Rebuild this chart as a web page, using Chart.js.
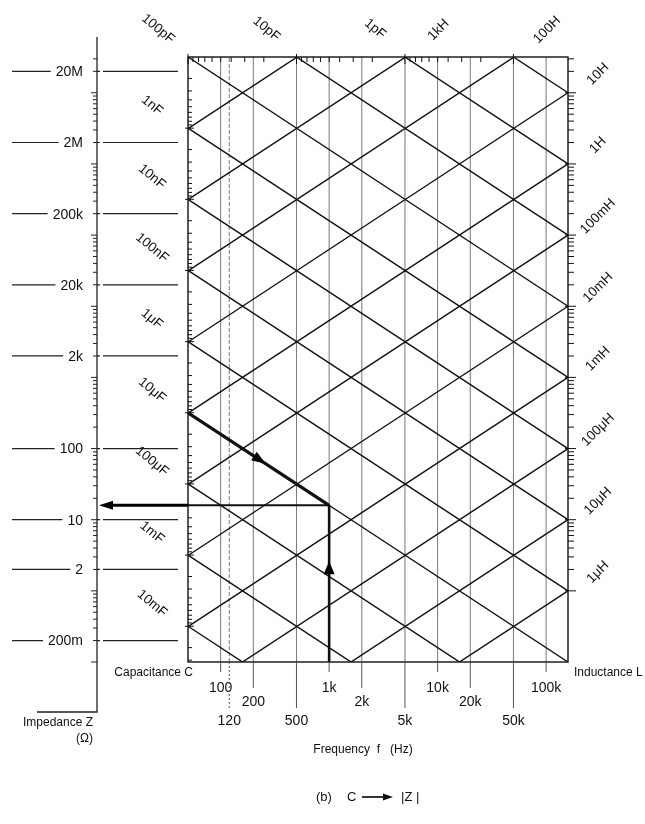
<!DOCTYPE html>
<html>
<head>
<meta charset="utf-8">
<script src="https://cdn.jsdelivr.net/npm/chart.js@4.4.1/dist/chart.umd.min.js"></script>
<style>
  html, body { margin: 0; padding: 0; background: #fff; }
  #chart { display: block; }
</style>
</head>
<body>
<canvas id="chart" width="645" height="824"></canvas>
<script>
const TWO_PI = 2 * Math.PI;

// frequency (Hz) and impedance (ohm) ranges of the plot
const freqRange = [50, 159155];
const impedanceRange = [0.1, 3.183e7];

// capacitance lines (F) and their labels
const capacitances = [1e-13, 1e-12, 1e-11, 1e-10, 1e-9, 1e-8, 1e-7, 1e-6, 1e-5, 1e-4, 1e-3, 1e-2];
const capacitanceLabels = ['', '1pF', '10pF', '100pF', '1nF', '10nF', '100nF', '1μF', '10μF', '100μF', '1mF', '10mF'];

// inductance lines (H) and their labels
const inductances = [1e-6, 1e-5, 1e-4, 1e-3, 1e-2, 1e-1, 1, 10, 100, 1000, 10000];
const inductanceLabels = ['1μH', '10μH', '100μH', '1mH', '10mH', '100mH', '1H', '10H', '100H', '1kH', ''];

// vertical frequency lines, their labels and label row (0 top .. 2 bottom)
const freqLines = [100, 120, 200, 500, 1000, 2000, 5000, 10000, 20000, 50000, 100000];
const freqLabels = ['100', '120', '200', '500', '1k', '2k', '5k', '10k', '20k', '50k', '100k'];
const freqRows = [0, 2, 1, 2, 0, 1, 2, 0, 1, 2, 0];

// impedance scale labels
const impedanceTicks = [2e7, 2e6, 2e5, 2e4, 2e3, 100, 10, 2, 0.2];
const impedanceLabels = ['20M', '2M', '200k', '20k', '2k', '100', '10', '2', '200m'];

// worked example: C = 10 uF at 1 kHz
const exampleC = 10e-6;
const exampleF = 1000;

const zCap = (f, c) => 1 / (TWO_PI * f * c);
const zInd = (f, l) => TWO_PI * f * l;
const exampleZ = zCap(exampleF, exampleC);

const FONT = '"Liberation Sans", Arial, Helvetica, sans-serif';

const datasets = [];

// example path (drawn on top)
datasets.push({
  data: [{ x: freqRange[0], y: zCap(freqRange[0], exampleC) }, { x: exampleF, y: exampleZ }],
  borderWidth: 3.2, order: 0
});
datasets.push({
  data: [{ x: exampleF, y: impedanceRange[0] }, { x: exampleF, y: exampleZ }],
  borderWidth: 2.6, order: 0
});
datasets.push({
  data: [{ x: freqRange[0], y: exampleZ }, { x: exampleF, y: exampleZ }],
  borderWidth: 2, order: 0
});

capacitances.forEach(c => {
  datasets.push({
    data: freqRange.map(f => ({ x: f, y: zCap(f, c) })),
    borderWidth: 1.4, order: 1
  });
});
inductances.forEach(l => {
  datasets.push({
    data: freqRange.map(f => ({ x: f, y: zInd(f, l) })),
    borderWidth: 1.4, order: 1
  });
});
freqLines.forEach(f => {
  datasets.push({
    data: impedanceRange.map(z => ({ x: f, y: z })),
    borderWidth: 1,
    borderColor: '#777',
    borderDash: f === 120 ? [4, 2] : [],
    order: 2
  });
});

function arrowHead(ctx, tx, ty, angle, len, half) {
  ctx.save();
  ctx.translate(tx, ty);
  ctx.rotate(angle);
  ctx.beginPath();
  ctx.moveTo(0, 0);
  ctx.lineTo(-len, -half);
  ctx.lineTo(-len, half);
  ctx.closePath();
  ctx.fill();
  ctx.restore();
}

const decor = {
  id: 'decor',
  afterDraw(chart) {
    const { ctx, chartArea: a, scales: { x, y } } = chart;
    const fMin = freqRange[0], fMax = freqRange[1];
    const zMin = impedanceRange[0], zMax = impedanceRange[1];
    ctx.save();
    ctx.strokeStyle = '#111';
    ctx.fillStyle = '#111';
    ctx.lineCap = 'butt';

    // plot frame
    ctx.lineWidth = 1.4;
    ctx.strokeRect(a.left, a.top, a.right - a.left, a.bottom - a.top);

    // capacitance scale ticks along the left and top edges
    ctx.lineWidth = 1;
    capacitances.forEach(c => {
      for (let k = 1; k <= 9; k++) {
        const zl = zCap(fMin, c * k);
        if (zl >= zMin && zl <= zMax) {
          const py = y.getPixelForValue(zl);
          ctx.beginPath();
          ctx.moveTo(a.left - (k === 1 ? 3 : 0), py);
          ctx.lineTo(a.left + (k === 1 ? 6 : 4), py);
          ctx.stroke();
        }
        const ft = 1 / (TWO_PI * c * k * zMax);
        if (ft >= fMin && ft <= fMax) {
          const px = x.getPixelForValue(ft);
          ctx.beginPath();
          ctx.moveTo(px, a.top - (k === 1 ? 3 : 0));
          ctx.lineTo(px, a.top + (k === 1 ? 7 : 5));
          ctx.stroke();
        }
      }
    });
    // inductance scale ticks along the right edge
    inductances.forEach(l => {
      for (let k = 1; k <= 9; k++) {
        const zr = zInd(fMax, l * k);
        if (zr >= zMin && zr <= zMax) {
          const py = y.getPixelForValue(zr);
          ctx.beginPath();
          ctx.moveTo(a.right - (k === 1 ? 3 : 0), py);
          ctx.lineTo(a.right + (k === 1 ? 8 : 6), py);
          ctx.stroke();
        }
      }
    });

    // frequency line extensions below the plot and labels
    ctx.strokeStyle = '#555';
    ctx.font = '14px ' + FONT;
    ctx.textAlign = 'center';
    ctx.textBaseline = 'middle';
    const rowY = [688, 702, 721];
    const rowLen = [10, 26, 46];
    freqLines.forEach((f, i) => {
      const px = x.getPixelForValue(f);
      const r = freqRows[i];
      ctx.lineWidth = 1;
      ctx.setLineDash(f === 120 ? [2, 2] : []);
      ctx.beginPath();
      ctx.moveTo(px, a.bottom);
      ctx.lineTo(px, a.bottom + rowLen[r]);
      ctx.stroke();
      ctx.setLineDash([]);
      ctx.fillText(freqLabels[i], px, rowY[r]);
    });

    // impedance axis on the left
    const axX = 97;
    ctx.strokeStyle = '#222';
    ctx.lineWidth = 1.3;
    ctx.beginPath();
    ctx.moveTo(axX, 37);
    ctx.lineTo(axX, 712);
    ctx.lineTo(37, 712);
    ctx.stroke();
    ctx.lineWidth = 1;
    for (let n = -1; n <= 7; n++) {
      for (let k = 1; k <= 9; k++) {
        const z = k * Math.pow(10, n);
        if (z < zMin || z > zMax) continue;
        const py = y.getPixelForValue(z);
        ctx.beginPath();
        ctx.moveTo(axX - (k === 1 ? 6 : 4), py);
        ctx.lineTo(axX, py);
        ctx.stroke();
      }
    }
    ctx.textAlign = 'right';
    ctx.font = '14px ' + FONT;
    impedanceTicks.forEach((z, i) => {
      const py = y.getPixelForValue(z);
      const w = ctx.measureText(impedanceLabels[i]).width;
      ctx.fillText(impedanceLabels[i], 83, py + 1);
      ctx.lineWidth = 1.2;
      ctx.beginPath();
      ctx.moveTo(12, py);
      ctx.lineTo(83 - w - 5, py);
      ctx.moveTo(103, py);
      ctx.lineTo(178, py);
      ctx.moveTo(axX, py);
      ctx.lineTo(axX + 3, py);
      ctx.stroke();
    });

    // capacitance labels
    ctx.fillStyle = '#111';
    ctx.font = '13.5px ' + FONT;
    ctx.textAlign = 'center';
    const slope = (y.getPixelForValue(1) - y.getPixelForValue(10)) / (x.getPixelForValue(10) - x.getPixelForValue(1));
    capacitances.forEach((c, i) => {
      const lab = capacitanceLabels[i];
      if (!lab) return;
      const fTop = 1 / (TWO_PI * c * zMax);
      let cx, cy;
      if (fTop >= fMin * 0.99) {
        cx = x.getPixelForValue(fTop) - 30;
        cy = a.top - 28;
      } else {
        const vy = y.getPixelForValue(zCap(fMin, c));
        cx = a.left - 36;
        cy = vy - 36 * slope + 1;
      }
      ctx.save();
      ctx.translate(cx, cy);
      ctx.rotate(40 * Math.PI / 180);
      ctx.fillText(lab, 0, 0);
      ctx.restore();
    });
    // inductance labels
    inductances.forEach((l, i) => {
      const lab = inductanceLabels[i];
      if (!lab) return;
      const zr = zInd(fMax, l);
      let cx, cy;
      if (zr <= zMax) {
        const vy = y.getPixelForValue(zr);
        cx = a.right + 30;
        cy = vy - 30 * slope + 1;
      } else {
        cx = x.getPixelForValue(zMax / (TWO_PI * l)) + 33;
        cy = a.top - 27;
      }
      ctx.save();
      ctx.translate(cx, cy);
      ctx.rotate(-45 * Math.PI / 180);
      ctx.fillText(lab, 0, 0);
      ctx.restore();
    });

    // example arrows
    const ex = x.getPixelForValue(exampleF);
    const ey = y.getPixelForValue(exampleZ);
    ctx.fillStyle = '#000';
    ctx.strokeStyle = '#000';
    ctx.lineWidth = 3;
    ctx.beginPath();
    ctx.moveTo(a.left, ey);
    ctx.lineTo(108, ey);
    ctx.stroke();
    arrowHead(ctx, 99, ey, Math.PI, 14, 4.5);
    // diagonal arrow head
    const fa = 260;
    const ax = x.getPixelForValue(fa), ay = y.getPixelForValue(zCap(fa, exampleC));
    arrowHead(ctx, ax, ay, Math.atan(slope), 14, 5);
    // vertical arrow head
    arrowHead(ctx, ex, y.getPixelForValue(2.6), -Math.PI / 2, 13, 5.5);

    // axis titles
    ctx.fillStyle = '#111';
    ctx.font = '12px ' + FONT;
    ctx.textBaseline = 'middle';
    ctx.textAlign = 'right';
    ctx.fillText('Capacitance C', 193, 673);
    ctx.fillText('Impedance Z', 93, 723);
    ctx.fillText('(Ω)', 93, 739);
    ctx.textAlign = 'left';
    ctx.fillText('Inductance L', 574, 673);
    ctx.textAlign = 'center';
    ctx.fillText('Frequency  f   (Hz)', 363, 750);

    // caption
    ctx.font = '13px ' + FONT;
    ctx.textAlign = 'left';
    ctx.fillText('(b)', 316, 797);
    ctx.fillText('C', 347, 797);
    ctx.fillText('|Z |', 401, 797);
    ctx.lineWidth = 1.6;
    ctx.beginPath();
    ctx.moveTo(362, 797);
    ctx.lineTo(385, 797);
    ctx.stroke();
    arrowHead(ctx, 393, 797, 0, 10, 3.5);

    ctx.restore();
  }
};

new Chart(document.getElementById('chart').getContext('2d'), {
  type: 'scatter',
  data: {
    datasets: datasets.map(d => Object.assign({
      showLine: true,
      pointRadius: 0,
      borderColor: '#111',
      fill: false
    }, d))
  },
  options: {
    responsive: false,
    animation: false,
    devicePixelRatio: 1,
    events: [],
    layout: { padding: { left: 188, right: 77, top: 57, bottom: 162 } },
    plugins: {
      legend: { display: false },
      tooltip: { enabled: false }
    },
    scales: {
      x: { type: 'logarithmic', min: freqRange[0], max: freqRange[1], display: false },
      y: { type: 'logarithmic', min: impedanceRange[0], max: impedanceRange[1], display: false }
    }
  },
  plugins: [decor]
});
</script>
</body>
</html>
